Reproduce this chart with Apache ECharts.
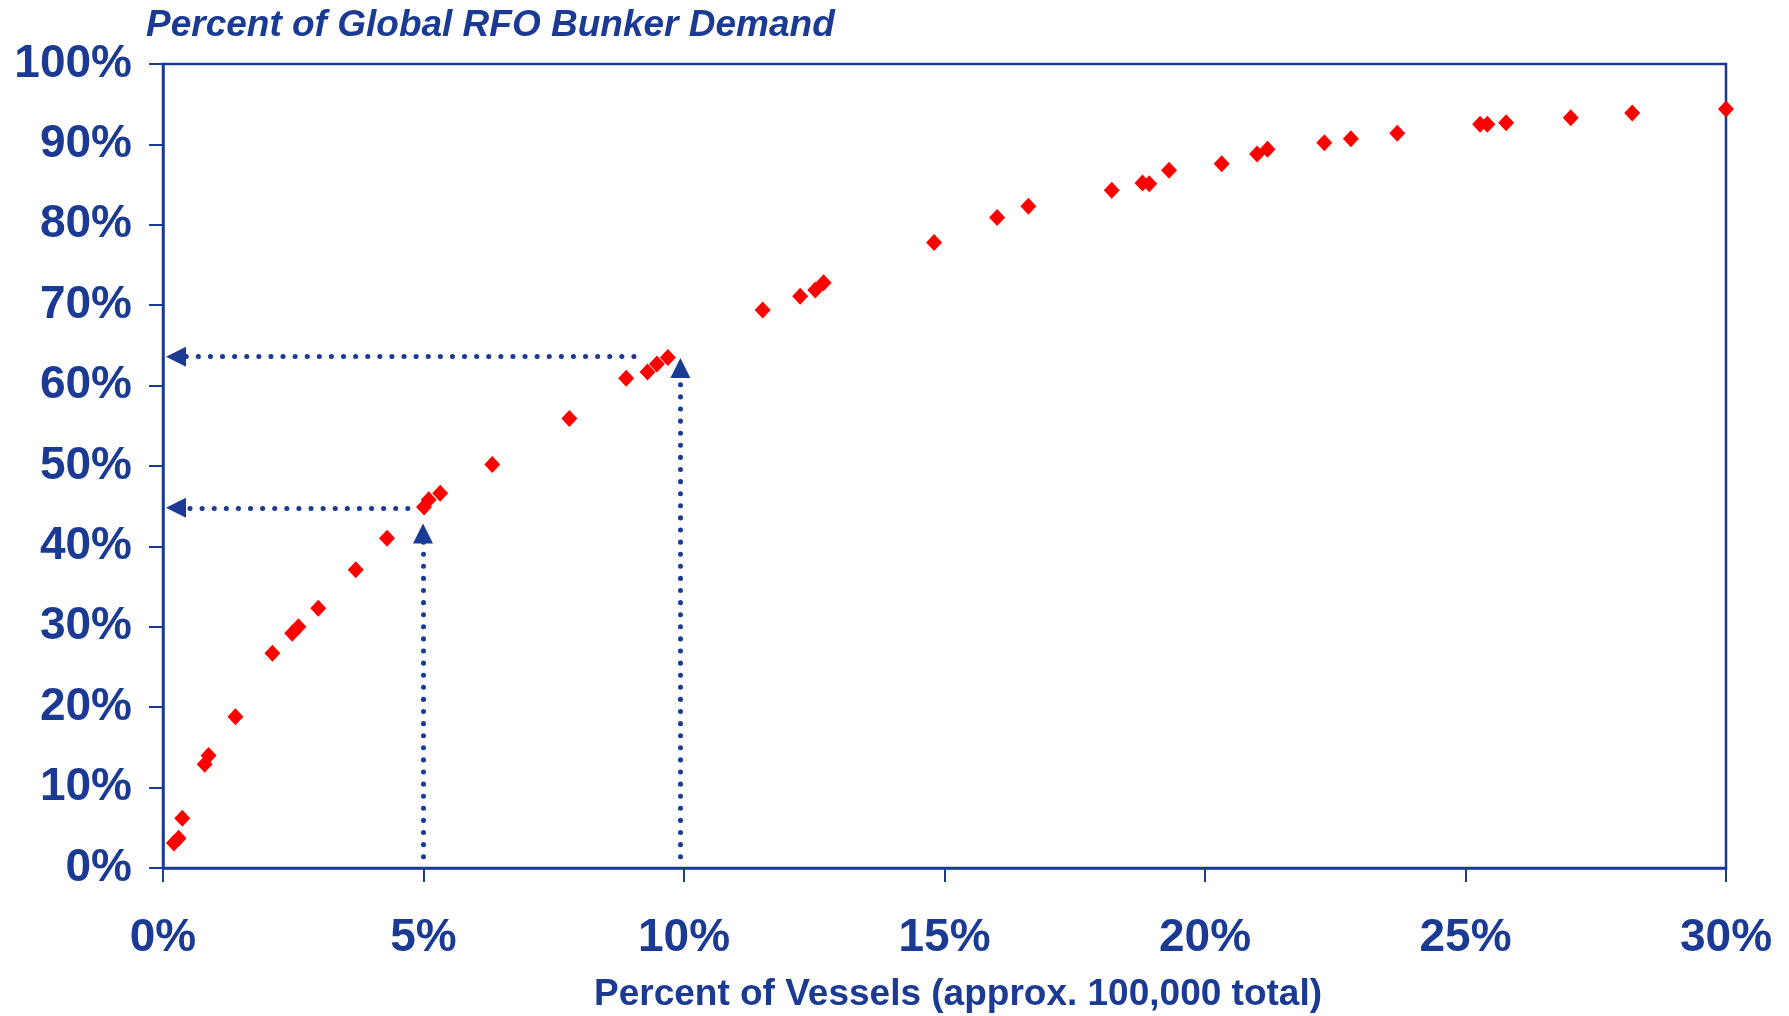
<!DOCTYPE html>
<html>
<head>
<meta charset="utf-8">
<title>RFO Bunker Demand</title>
<script src="https://cdn.jsdelivr.net/npm/echarts@6/dist/echarts.min.js"></script>
<style>
  html, body { margin: 0; padding: 0; background: #fff; }
  #chart { width: 1789px; height: 1016px; }
</style>
</head>
<body>
<div id="chart"></div>
<script>
// 船舶占比 (x) / 需求占比 (y)
const vesselPct = [0.21, 0.30, 0.37, 0.80, 0.875, 1.39, 2.10, 2.48, 2.60, 2.98, 3.70, 4.30, 5.01, 5.10, 5.32, 6.32, 7.80, 8.89, 9.30, 9.48, 9.69, 11.51, 12.23, 12.52, 12.68, 14.80, 16.01, 16.61, 18.21, 18.80, 18.93, 19.31, 20.32, 21.0, 21.2, 22.29, 22.80, 23.69, 25.28, 25.42, 25.78, 27.02, 28.2, 30.0]
const demandPct = [3.1, 3.7, 6.2, 12.9, 14.0, 18.8, 26.7, 29.2, 30.0, 32.3, 37.1, 41.0, 44.9, 45.8, 46.6, 50.2, 55.9, 60.9, 61.7, 62.7, 63.5, 69.4, 71.1, 71.9, 72.8, 77.8, 80.9, 82.3, 84.3, 85.2, 85.1, 86.8, 87.6, 88.8, 89.4, 90.2, 90.7, 91.4, 92.5, 92.5, 92.7, 93.3, 93.9, 94.4]

// 虚线箭头 起点 -> 终点
const guideFrom = [[4.7, 44.8], [4.99, 1.4], [9.04, 63.6], [9.93, 1.4]]
const guideTo = [[0.25, 44.8], [4.99, 41.6], [0.25, 63.6], [9.93, 62.2]]

const titleText = 'Percent of Global RFO Bunker Demand'
const xTitleText = 'Percent of Vessels (approx. 100,000 total)'

const blue = '#1a3a94'
const font = '"Liberation Sans", Arial, sans-serif'

let points = vesselPct.map((v, i) => [v, demandPct[i]])
let guides = guideFrom.map((p, i) => [{ coord: p }, { coord: guideTo[i] }])

let chart = echarts.init(document.getElementById('chart'))

var option = {
  backgroundColor: '#fff',
  animation: false,
  grid: {
    left: 163,
    right: 63,
    top: 64,
    bottom: 148,
    show: true,
    borderColor: blue,
    borderWidth: 2.5
  },
  xAxis: {
    type: 'value',
    min: 0,
    max: 30,
    interval: 5,
    axisLine: { lineStyle: { color: blue, width: 2.5 } },
    axisTick: { inside: false, length: 14, lineStyle: { color: blue, width: 2 } },
    splitLine: { show: false },
    axisLabel: {
      formatter: '{value}%',
      color: blue,
      fontSize: 46,
      fontWeight: 'bold',
      fontFamily: font,
      margin: 47
    }
  },
  yAxis: {
    type: 'value',
    min: 0,
    max: 100,
    interval: 10,
    axisLine: { lineStyle: { color: blue, width: 2.5 } },
    axisTick: { inside: false, length: 14, lineStyle: { color: blue, width: 2 } },
    splitLine: { show: false },
    axisLabel: {
      formatter: '{value}%',
      color: blue,
      fontSize: 46,
      fontWeight: 'bold',
      fontFamily: font,
      margin: 31
    }
  },
  graphic: [
    {
      type: 'text',
      left: 146,
      top: 7,
      style: {
        text: titleText,
        fill: blue,
        font: 'italic bold 37px ' + font
      }
    },
    {
      type: 'text',
      left: 594,
      top: 976,
      style: {
        text: xTitleText,
        fill: blue,
        font: 'bold 37px ' + font
      }
    }
  ],
  series: [
    {
      type: 'scatter',
      data: points,
      symbol: 'diamond',
      symbolSize: [16, 17],
      itemStyle: { color: '#ff0000', opacity: 1 },
      z: 3,
      markLine: {
        silent: true,
        symbol: ['none', 'triangle'],
        symbolSize: 20,
        label: { show: false },
        lineStyle: {
          color: blue,
          width: 5,
          type: [0.1, 12],
          cap: 'round',
          opacity: 1
        },
        data: guides
      }
    }
  ]
}

chart.setOption(option)
</script>
</body>
</html>
